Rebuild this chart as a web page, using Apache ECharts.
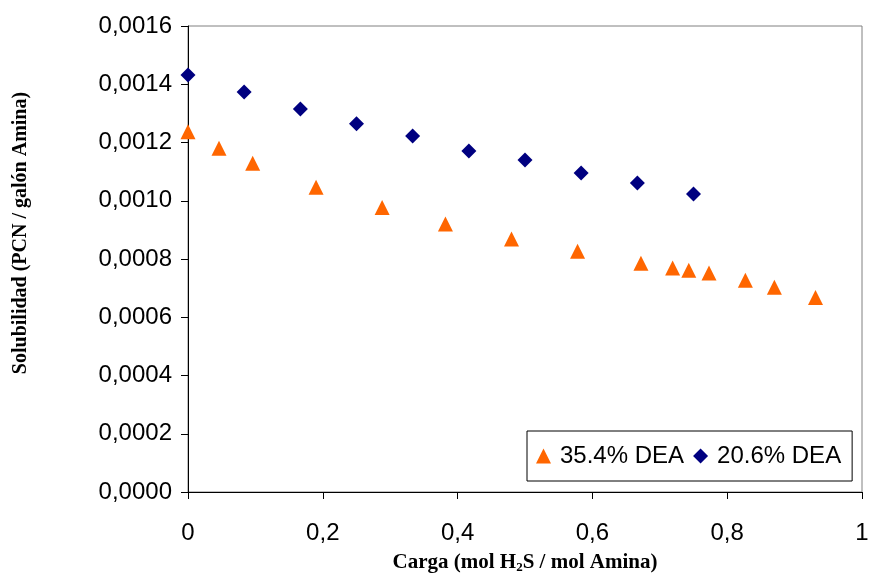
<!DOCTYPE html>
<html>
<head>
<meta charset="utf-8">
<script src="https://cdn.jsdelivr.net/npm/echarts@6/dist/echarts.min.js"></script>
<style>
html,body{margin:0;padding:0;background:#fff;}
#c{width:869px;height:573px;}
</style>
</head>
<body>
<div id="c"></div>
<script>
// Series 35.4% DEA (triangles)
const dea354X = [0, 0.046, 0.096, 0.190, 0.288, 0.382, 0.480, 0.578, 0.672, 0.719, 0.743, 0.773, 0.827, 0.870, 0.931];
const dea354Y = [0.001237, 0.00118, 0.001129, 0.001046, 0.000977, 0.00092, 0.000869, 0.000827, 0.000785, 0.000769, 0.000761, 0.000752, 0.000727, 0.000703, 0.000668];
// Series 20.6% DEA (diamonds)
const dea206X = [0, 0.0833, 0.1667, 0.25, 0.3333, 0.4167, 0.5, 0.5833, 0.6667, 0.75];
const dea206Y = [0.001432, 0.001373, 0.001315, 0.001264, 0.001222, 0.001171, 0.00114, 0.001095, 0.001061, 0.001023];
const seriesNames = ['35.4% DEA', '20.6% DEA'];
const xTitle = 'Carga (mol H{sub|2}S / mol Amina)';
const yTitle = 'Solubilidad (PCN / galón Amina)';

const pair = (xs, ys) => xs.map((x, i) => [x, ys[i]]);
const chart = echarts.init(document.getElementById('c'), null, {renderer: 'canvas'});
const sans = '"Liberation Sans", Arial, sans-serif';
const serif = '"Liberation Serif", "Times New Roman", serif';

chart.setOption({
  animation: false,
  backgroundColor: '#fff',
  grid: {left: 188, top: 26, right: 7, bottom: 81, show: true, borderColor: '#808080', borderWidth: 1,
    backgroundColor: 'transparent', outerBoundsMode: 'none', containLabel: false},
  legend: {
    left: 527, top: 431,
    orient: 'horizontal',
    backgroundColor: '#fff',
    borderColor: '#000', borderWidth: 1,
    padding: [13, 11, 13, 9],
    itemGap: 9,
    itemWidth: 15, itemHeight: 15,
    textStyle: {fontFamily: sans, fontSize: 24, color: '#000', padding: [0, 0, 0, 4]},
    data: [
      {name: seriesNames[0], icon: 'triangle'},
      {name: seriesNames[1], icon: 'diamond'}
    ]
  },
  xAxis: {
    type: 'value', min: 0, max: 1, interval: 0.2,
    name: xTitle, nameLocation: 'middle', nameGap: 59,
    nameTextStyle: {fontFamily: serif, fontSize: 21, fontWeight: 'bold', color: '#000',
      rich: {sub: {fontFamily: serif, fontSize: 13, fontWeight: 'bold', color: '#000', padding: [10, 0, 0, 0]}}},
    axisLine: {show: true, onZero: false, lineStyle: {color: '#000', width: 1}},
    axisTick: {show: true, inside: false, length: 7, lineStyle: {color: '#000'}},
    splitLine: {show: false},
    axisLabel: {fontFamily: sans, fontSize: 24, color: '#000', margin: 29,
      formatter: v => String(+v.toFixed(1)).replace('.', ',')}
  },
  yAxis: {
    type: 'value', min: 0, max: 0.0016, interval: 0.0002,
    name: yTitle, nameLocation: 'middle', nameGap: 157, nameRotate: 90,
    nameTextStyle: {fontFamily: serif, fontSize: 20, fontWeight: 'bold', color: '#000', padding: [0, 0, 0, 52]},
    axisLine: {show: true, onZero: false, lineStyle: {color: '#000', width: 1}},
    axisTick: {show: true, inside: false, length: 7, lineStyle: {color: '#000'}},
    splitLine: {show: false},
    axisLabel: {fontFamily: sans, fontSize: 24, color: '#000', margin: 16,
      formatter: v => v.toFixed(4).replace('.', ',')}
  },
  series: [
    {name: seriesNames[0], type: 'scatter', symbol: 'triangle', symbolSize: 15,
      itemStyle: {color: '#FF6600', opacity: 1}, data: pair(dea354X, dea354Y)},
    {name: seriesNames[1], type: 'scatter', symbol: 'diamond', symbolSize: 15,
      itemStyle: {color: '#000080', opacity: 1}, data: pair(dea206X, dea206Y)}
  ]
});
</script>
</body>
</html>
